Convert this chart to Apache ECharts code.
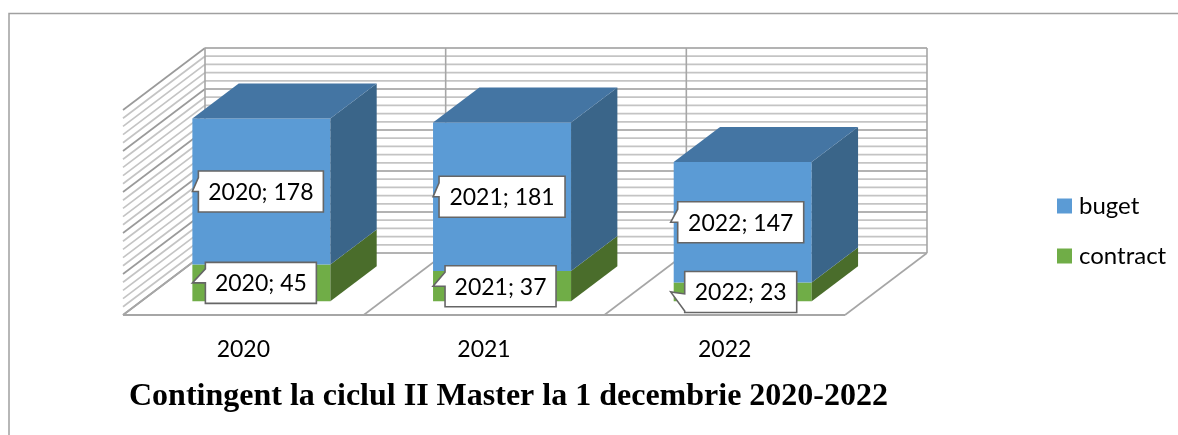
<!DOCTYPE html>
<html>
<head>
<meta charset="utf-8">
<style>
html, body { margin: 0; padding: 0; background: #fff; }
#main { width: 1178px; height: 435px; }
</style>
<script src="https://cdn.jsdelivr.net/npm/echarts@6/dist/echarts.min.js"></script>
</head>
<body>
<div id="main"></div>
<script>
// data
var categories = ['2020', '2021', '2022'];
var buget = [178, 181, 147];
var contract = [45, 37, 23];
var gridTicks = [0, 10, 20, 30, 40, 50, 60, 70, 80, 90, 100, 110, 120, 130, 140, 150, 160, 170, 180, 190, 200, 210, 220, 230, 240, 250];
var dividers = [0, 1, 2, 3];

// fake 3d: depth of the floor in pixels, bars stand between depth t0 and t1
var DX = 82, DY = -62;
var T0 = 0.22, T1 = 0.785;
var BAR_W = 138;
var UI_FONT = 'Lato';

function pt(p, t) {
  return [p[0] + DX * t, p[1] + DY * t];
}

function poly(points, fill) {
  return { type: 'polygon', shape: { points: points }, style: { fill: fill } };
}

function line(a, b, color, width) {
  return {
    type: 'line',
    shape: { x1: a[0], y1: a[1], x2: b[0], y2: b[1] },
    style: { stroke: color, lineWidth: width, fill: null }
  };
}

// back wall + left wall lines
function renderWalls(params, api) {
  var v = api.value(0);
  var cs = params.coordSys;
  var left = api.coord([0, v]);
  var a = [cs.x, left[1]];
  var b = [cs.x + cs.width, left[1]];
  var major = v % 50 === 0;
  var color = major ? '#9a9a9a' : '#c4c4c4';
  var children = [
    line(a, pt(a, 1), color, 1.7),
    line(pt(a, 1), pt(b, 1), color, 1.7)
  ];
  if (v === 0) {
    // front edge of the floor
    children.push(line(a, b, '#a6a6a6', 2));
  }
  return { type: 'group', children: children };
}

// floor dividers and the verticals on the back wall
function renderFloor(params, api) {
  var i = api.value(0);
  var cs = params.coordSys;
  var x = cs.x + cs.width * i / categories.length;
  var a = [x, cs.y + cs.height];
  var top = [x, cs.y];
  return {
    type: 'group',
    children: [
      line(a, pt(a, 1), '#a6a6a6', 1.6),
      line(pt(a, 1), pt(top, 1), '#a6a6a6', 1.6)
    ]
  };
}

function barRender(front, side, roof) {
  return function (params, api) {
    var i = api.value(0);
    var lo = api.coord([i, api.value(1)]);
    var hi = api.coord([i, api.value(2)]);
    var x0 = lo[0] - BAR_W / 2;
    var x1 = lo[0] + BAR_W / 2;
    var fl = pt([x0, lo[1]], T0), fr = pt([x1, lo[1]], T0);
    var tl = pt([x0, hi[1]], T0), tr = pt([x1, hi[1]], T0);
    var dt = T1 - T0;
    var children = [
      poly([fl, fr, tr, tl], front),
      poly([fr, pt(fr, dt), pt(tr, dt), tr], side)
    ];
    if (roof) {
      children.push(poly([tl, tr, pt(tr, dt), pt(tl, dt)], roof));
    }
    return { type: 'group', children: children };
  };
}

// callout offsets from the bar's left edge: box left, width, tail base top/bottom, tail tip
var calloutBuget = [
  { left: 6, w: 125, base0: -14, base1: 0, tipX: 0 },
  { left: 6, w: 126, base0: -14, base1: 0, tipX: 0 },
  { left: 4, w: 126, base0: -13, base1: 0, tipX: -3 }
];
var calloutContract = [
  { left: 13, w: 111, base0: -14, base1: 0, tipX: 0 },
  { left: 12, w: 111, base0: -14, base1: 0, tipX: 0 },
  { left: 11, w: 112, base0: 2, base1: 19, tipX: -3 }
];

function renderCallout(params, api) {
  var i = api.value(0);
  var lo = api.value(1), hi = api.value(2);
  var which = api.value(3) === 0 ? calloutContract : calloutBuget;
  var c = which[i];
  var a = api.coord([i, lo]);
  var b = api.coord([i, hi]);
  var x0 = pt([a[0] - BAR_W / 2, 0], T0)[0];
  var midY = (pt(a, T0)[1] + pt(b, T0)[1]) / 2;
  var bx = x0 + c.left;
  var h = 41;
  var by = midY - h / 2;
  var tip = [x0 + c.tipX, midY];
  var pts = [
    [bx, by],
    [bx + c.w, by],
    [bx + c.w, by + h],
    [bx, by + h],
    [bx, midY + c.base1],
    tip,
    [bx, midY + c.base0]
  ];
  return {
    type: 'group',
    children: [
      { type: 'polygon', shape: { points: pts }, style: { fill: '#fff', stroke: '#666', lineWidth: 1.6 } },
      {
        type: 'text',
        style: {
          text: categories[i] + '; ' + (hi - lo),
          x: bx + c.w / 2,
          y: midY + 1,
          align: 'center',
          verticalAlign: 'middle',
          fill: '#000',
          font: '23px ' + UI_FONT
        }
      }
    ]
  };
}

var chart = echarts.init(document.getElementById('main'), null, { renderer: 'canvas' });

var option = {
  animation: false,
  title: {
    text: 'Contingent la ciclul II Master la 1 decembrie 2020-2022',
    left: 129,
    top: 381,
    padding: 0,
    textStyle: {
      fontFamily: 'Liberation Serif',
      fontWeight: 'bold',
      fontSize: 32,
      color: '#000'
    }
  },
  legend: {
    data: ['buget', 'contract'],
    orient: 'vertical',
    left: 1057,
    top: 194,
    padding: 0,
    itemWidth: 15,
    itemHeight: 15,
    itemGap: 26,
    icon: 'rect',
    selectedMode: false,
    textStyle: { fontFamily: UI_FONT, fontSize: 24, color: '#000', padding: [0, 0, 0, 2] }
  },
  grid: { left: 123, top: 110, width: 722, height: 205 },
  xAxis: {
    type: 'category',
    data: categories,
    axisLine: { show: false },
    axisTick: { show: false },
    axisLabel: { fontFamily: UI_FONT, fontSize: 23, color: '#000', margin: 23 }
  },
  yAxis: {
    type: 'value',
    min: 0,
    max: 250,
    interval: 50,
    show: false,
    splitLine: { show: false }
  },
  series: [
    {
      type: 'custom',
      name: 'walls',
      silent: true,
      clip: false,
      renderItem: renderWalls,
      encode: { y: 0 },
      data: gridTicks.map(function (v) { return [v]; }),
      z: 1
    },
    {
      type: 'custom',
      name: 'floor',
      silent: true,
      clip: false,
      renderItem: renderFloor,
      data: dividers.map(function (v) { return [v]; }),
      z: 2
    },
    {
      type: 'custom',
      name: 'contract',
      silent: true,
      clip: false,
      itemStyle: { color: '#70AD47' },
      renderItem: barRender('#70AD47', '#4A6D2B', null),
      encode: { x: 0, y: 2 },
      data: categories.map(function (c, i) { return [i, 0, contract[i]]; }),
      z: 3
    },
    {
      type: 'custom',
      name: 'buget',
      silent: true,
      clip: false,
      itemStyle: { color: '#5B9BD5' },
      renderItem: barRender('#5B9BD5', '#3A6589', '#4475A3'),
      encode: { x: 0, y: 2 },
      data: categories.map(function (c, i) { return [i, contract[i], contract[i] + buget[i]]; }),
      z: 4
    },
    {
      type: 'custom',
      name: 'labels',
      silent: true,
      clip: false,
      renderItem: renderCallout,
      encode: { x: 0, y: 2 },
      data: categories.map(function (c, i) { return [i, 0, contract[i], 0]; })
        .concat(categories.map(function (c, i) { return [i, contract[i], contract[i] + buget[i], 1]; })),
      z: 5
    }
  ],
  graphic: [
    {
      type: 'polyline',
      silent: true,
      shape: { points: [[9, 435], [9, 13.5], [1178, 13.5]] },
      style: { stroke: '#a0a0a0', lineWidth: 1.5, fill: null }
    }
  ]
};

chart.setOption(option);
</script>
</body>
</html>
